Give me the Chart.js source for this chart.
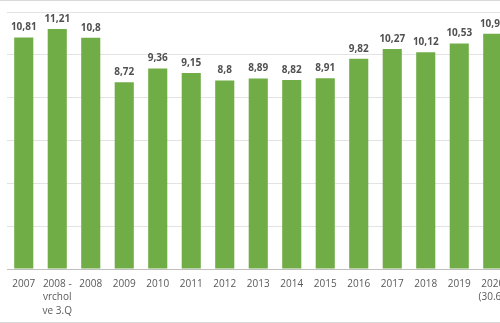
<!DOCTYPE html>
<html>
<head>
<meta charset="utf-8">
<script src="https://cdn.jsdelivr.net/npm/chart.js@4"></script>
<style>
  html, body { margin: 0; padding: 0; background: #fff; overflow: hidden; width: 500px; height: 323px; }
  #frame { position: absolute; left: 0; top: 0; width: 500px; height: 321px; border-top: 1px solid #d9d9d9; border-bottom: 1px solid #d9d9d9; overflow: hidden; }
  #wrap { position: absolute; left: 0; top: -1px; width: 520px; height: 323px; }
</style>
</head>
<body>
<div id="frame"><div id="wrap"><canvas id="c" width="520" height="323"></canvas></div></div>
<script>
const categories = [
  '2007', ['2008 -', 'vrchol', 've 3.Q'], '2008', '2009', '2010', '2011', '2012',
  '2013', '2014', '2015', '2016', '2017', '2018', '2019', ['2020', '(30.6.)']
];
const values = [10.81, 11.21, 10.8, 8.72, 9.36, 9.15, 8.8, 8.89, 8.82, 8.91, 9.82, 10.27, 10.12, 10.53, 10.98];
const yMax = 12;
const yStep = 2;

const valueLabels = {
  id: 'valueLabels',
  afterDatasetsDraw(chart) {
    const ctx = chart.ctx;
    const meta = chart.getDatasetMeta(0);
    ctx.save();
    ctx.font = 'bold 10px "Open Sans"';
    ctx.fillStyle = '#505050';
    ctx.textAlign = 'center';
    ctx.textBaseline = 'middle';
    meta.data.forEach((bar, i) => {
      const v = chart.data.datasets[0].data[i];
      ctx.fillText(String(v).replace('.', ','), bar.x, bar.y - 10);
    });
    ctx.restore();
  }
};

new Chart(document.getElementById('c'), {
  type: 'bar',
  data: {
    labels: categories,
    datasets: [{
      data: values,
      backgroundColor: '#70AD47',
      borderWidth: 0,
      barPercentage: 0.57,
      categoryPercentage: 1
    }]
  },
  options: {
    responsive: false,
    animation: false,
    events: [],
    layout: { padding: { top: 12, left: 7, right: 10.5, bottom: 4 } },
    plugins: { legend: { display: false }, tooltip: { enabled: false } },
    scales: {
      y: {
        min: 0, max: yMax,
        ticks: { display: false, stepSize: yStep },
        grid: { color: '#e3e3e3', drawTicks: false, lineWidth: 1 },
        border: { display: false }
      },
      x: {
        grid: { display: false, drawTicks: false },
        border: { display: true, color: '#bfbfbf', width: 1 },
        ticks: {
          color: '#595959',
          font: { family: '"Open Sans"', size: 10, lineHeight: 1.37 },
          padding: 8,
          maxRotation: 0,
          autoSkip: false
        },
        afterFit(scale) { scale.height = 50; }
      }
    }
  },
  plugins: [valueLabels]
});
</script>
</body>
</html>
